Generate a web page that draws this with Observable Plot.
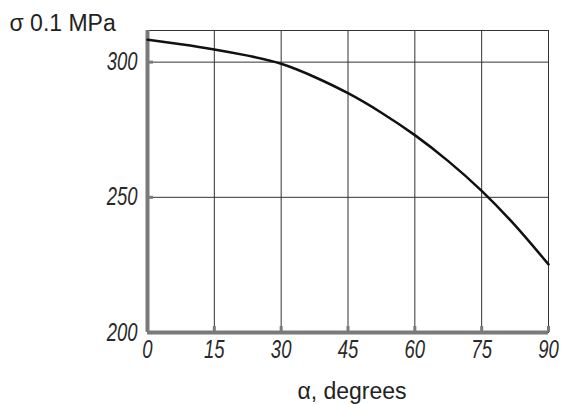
<!DOCTYPE html>
<html><head><meta charset="utf-8">
<script src="https://cdn.jsdelivr.net/npm/d3@7"></script>
<script src="https://cdn.jsdelivr.net/npm/@observablehq/plot@0.6"></script>
<style>body{margin:0;background:#fff}</style>
</head><body><div id="chart"></div>
<script>
const alpha = [0, 7.5, 15, 22.5, 30, 37.5, 45, 52.5, 60, 67.5, 75, 82.5, 90];
const sigma = [308.3, 306.6, 304.7, 302.4, 299.4, 294.5, 288.5, 281.3, 273.0, 263.4, 252.4, 239.6, 225.2];
const xTicks = [0, 15, 30, 45, 60, 75, 90];
const yTicks = [200, 250, 300];
const yTitle = "σ 0.1 MPa";
const xTitle = "α, degrees";

const data = alpha.map((a, i) => ({a, s: sigma[i]}));
const tickFont = {fontFamily: "'Liberation Sans', Arial, sans-serif", fontStyle: "italic", fontSize: 25, fill: "#2a2a2a"};
const titleFont = {fontFamily: "'Liberation Sans', Arial, sans-serif", fontSize: 23, fill: "#222"};

const chart = Plot.plot({
  width: 565, height: 404,
  marginLeft: 147, marginRight: 17, marginTop: 30, marginBottom: 72,
  style: {background: "#fff", color: "#222", overflow: "visible"},
  x: {domain: [0, 90]},
  y: {domain: [200, 311.7]},
  marks: [
    Plot.gridX(xTicks.slice(1), {stroke: "#333", strokeOpacity: 1, strokeWidth: 1}),
    Plot.gridY(yTicks.slice(1), {stroke: "#333", strokeOpacity: 1, strokeWidth: 1}),
    Plot.frame({stroke: "#333", strokeWidth: 1}),
    Plot.ruleX([0], {stroke: "#7a7a7a", strokeWidth: 4}),
    Plot.ruleY([200], {stroke: "#7a7a7a", strokeWidth: 4}),
    Plot.axisX(xTicks, {tickSize: -6, tickPadding: 14, stroke: "#7a7a7a", strokeWidth: 3, label: null, ...tickFont}),
    Plot.axisY(yTicks, {tickSize: -6, tickPadding: 16, stroke: "#7a7a7a", strokeWidth: 3, label: null, ...tickFont}),
    Plot.line(data, {x: "a", y: "s", curve: "natural", stroke: "#111", strokeWidth: 2.5}),
    Plot.text([yTitle], {frameAnchor: "top-left", dx: -138, dy: -7, textAnchor: "start", lineAnchor: "middle", ...titleFont}),
    Plot.text([xTitle], {frameAnchor: "bottom", dx: 4, dy: 59, lineAnchor: "middle", ...titleFont})
  ]
});
// condense the tick labels horizontally around their anchor points
chart.querySelectorAll('g[aria-label$="tick label"] text').forEach(t => {
  const tr = t.getAttribute("transform");
  if (tr) t.setAttribute("transform", tr + " scale(0.74,1)");
});
document.getElementById("chart").append(chart);
</script>
</body></html>
